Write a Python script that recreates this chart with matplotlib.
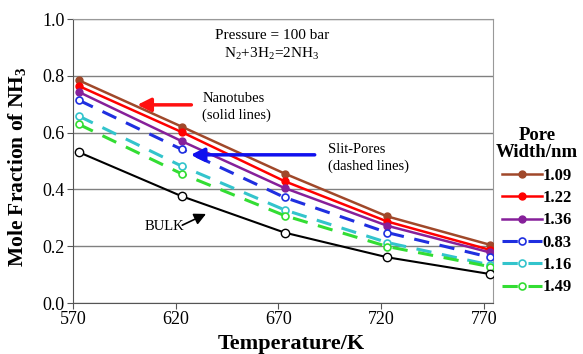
import matplotlib
matplotlib.use("Agg")
import matplotlib.pyplot as plt

plt.rcParams['font.family'] = ['Liberation Serif', 'DejaVu Serif']
plt.rcParams['mathtext.fontset'] = 'custom'
plt.rcParams['mathtext.rm'] = 'Liberation Serif'
plt.rcParams['mathtext.bf'] = 'Liberation Serif:bold'

temperature = [573, 623, 673, 723, 773]

nt_109 = [0.784, 0.621, 0.456, 0.305, 0.205]
nt_122 = [0.764, 0.602, 0.429, 0.287, 0.187]
nt_136 = [0.743, 0.570, 0.405, 0.272, 0.178]
sp_083 = [0.714, 0.541, 0.372, 0.248, 0.161]
sp_116 = [0.658, 0.482, 0.328, 0.213, 0.134]
sp_149 = [0.629, 0.455, 0.308, 0.199, 0.128]
bulk = [0.531, 0.376, 0.248, 0.161, 0.102]

series = [
    ("1.09", nt_109, "#a0482a", "solid"),
    ("1.22", nt_122, "#ff0000", "solid"),
    ("1.36", nt_136, "#86209a", "solid"),
    ("0.83", sp_083, "#1f2fe0", "dashed"),
    ("1.16", sp_116, "#33c4cc", "dashed"),
    ("1.49", sp_149, "#33dd33", "dashed"),
]

fig = plt.figure(figsize=(5.83, 3.54), dpi=100)
ax = fig.add_axes([0.125, 0.144, 0.721, 0.802])

for lab, vals, col, style in series:
    if style == "solid":
        ax.plot(temperature, vals, color=col, lw=1.8, marker='o', ms=5,
                mfc=col, mec=col, label=lab, zorder=3)
    else:
        ax.plot(temperature, vals, color=col, lw=2.2, ls=(0, (5, 3.5)), marker='o', ms=5,
                mfc='white', mec=col, mew=1.2, label=lab, zorder=3)

ax.plot(temperature, bulk, color='black', lw=1.5, marker='o', ms=6,
        mfc='white', mec='black', mew=1.0, zorder=3)

ax.set_xlim(570, 774.5)
ax.set_ylim(0, 1.0)
ax.set_xticks([570, 620, 670, 720, 770])
ax.set_yticks([0.0, 0.2, 0.4, 0.6, 0.8, 1.0])
ax.set_yticklabels(["0.0", "0.2", "0.4", "0.6", "0.8", "1.0"])
ax.yaxis.grid(True, color='#808080', lw=1.0)
ax.set_axisbelow(True)
ax.tick_params(axis='both', labelsize=13, direction='out', length=4, color='#555555')
ax.tick_params(axis='y', pad=2)
ax.tick_params(axis='x', pad=2)
for s in ['top', 'right']:
    ax.spines[s].set_color('#999999')
for s in ['left', 'bottom']:
    ax.spines[s].set_color('#555555')

ax.set_xlabel("Temperature/K", fontsize=16, fontweight='bold', va='top')
ax.xaxis.set_label_coords(0.52, -0.108)
ax.set_ylabel(r"Mole Fraction of NH$_\mathbf{3}$", fontsize=15.5, fontweight='bold')
ax.yaxis.set_label_coords(-0.105, 0.48)

ax.text(0.474, 0.944, "Pressure = 100 bar", transform=ax.transAxes, ha='center', va='center', fontsize=11)
ax.text(0.474, 0.880, r"N$_2$+3H$_2$=2NH$_3$", transform=ax.transAxes, ha='center', va='center', fontsize=11)

ax.text(633, 0.69, "Nanotubes\n(solid lines)", ha='left', va='center', fontsize=10.5, linespacing=1.3)
ax.annotate("", xy=(600, 0.698), xytext=(629, 0.698),
            arrowprops=dict(arrowstyle='-|>,head_length=0.8,head_width=0.4', color='#ff1010', lw=2.5))

ax.text(694, 0.51, "Slit-Pores\n(dashed lines)", ha='left', va='center', fontsize=10.5, linespacing=1.3)
ax.annotate("", xy=(626, 0.522), xytext=(689, 0.522),
            arrowprops=dict(arrowstyle='-|>,head_length=0.8,head_width=0.4', color='#1010ee', lw=2.5))

ax.text(605, 0.27, "BULK", ha='left', va='center', fontsize=10.5)
ax.annotate("", xy=(636, 0.318), xytext=(622, 0.27),
            arrowprops=dict(arrowstyle='-|>,head_length=0.7,head_width=0.35', color='black', lw=1.2))

leg = ax.legend(loc='upper center', bbox_to_anchor=(0.921, 0.64), bbox_transform=fig.transFigure,
                frameon=False, title="Pore\nWidth/nm", handlelength=2.4, handletextpad=0.05,
                labelspacing=0.38, borderaxespad=0.0, borderpad=0.0, alignment='center',
                prop={'weight': 'bold', 'size': 12})
t = leg.get_title()
t.set_fontweight('bold')
t.set_fontsize(13.5)
t.set_linespacing(1.0)
t.set_multialignment('center')

fig.savefig("out.png", dpi=100)
